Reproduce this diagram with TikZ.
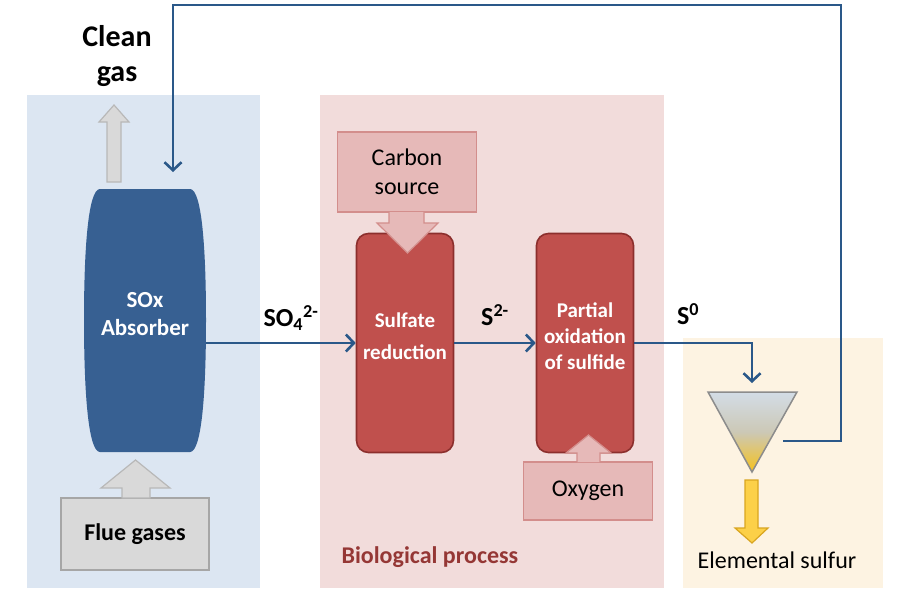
\documentclass[tikz,border=0pt]{standalone}
\usepackage{fontspec}
\setmainfont{Carlito}
\usetikzlibrary{arrows.meta,calc}

\definecolor{bluepanel}{HTML}{DCE6F2}
\definecolor{pinkpanel}{HTML}{F2DCDB}
\definecolor{creampanel}{HTML}{FDF3E2}
\definecolor{absblue}{HTML}{376092}
\definecolor{flowblue}{HTML}{2A5889}
\definecolor{reactorred}{HTML}{C0504D}
\definecolor{reactorline}{HTML}{8C2F2D}
\definecolor{inpink}{HTML}{E6B9B8}
\definecolor{inline}{HTML}{D38E8C}
\definecolor{grayfill}{HTML}{D9D9D9}
\definecolor{grayline}{HTML}{A6A6A6}
\definecolor{darkred}{HTML}{953735}
\definecolor{sulfyellow}{HTML}{FCD048}
\definecolor{sulfline}{HTML}{D9A520}
\definecolor{funneltop}{HTML}{D3DCE6}
\definecolor{funnelmid}{HTML}{CCC8B6}
\definecolor{funnelbot}{HTML}{F6C21C}

\begin{document}
\begin{tikzpicture}[x=1pt, y=-1pt,
  flow/.style={draw=flowblue, line width=2.6pt, -{Straight Barb[length=8pt,width=17pt]}},
  flowlabel/.style={font=\fontsize{26}{30}\selectfont\bfseries},
  graybox/.style={draw=grayline, fill=grayfill, line width=1.2pt, font=\fontsize{24}{29}\selectfont\bfseries},
  grayarrow/.style={draw=grayline!80, fill=grayfill, line width=1.2pt},
  inbox/.style={draw=inline, fill=inpink, line width=1.2pt, align=center, font=\fontsize{24}{29}\selectfont},
  inarrow/.style={draw=inline, fill=inpink, line width=1.2pt},
  reactor/.style={draw=reactorline, fill=reactorred, line width=1.6pt, rounded corners=12pt, minimum width=97pt, minimum height=219pt},
  rtext/.style={text=white, align=center, font=\fontsize{21}{26}\selectfont\bfseries},
  absorber/.style={minimum width=122pt, minimum height=263pt},
  atext/.style={text=white, align=center, font=\fontsize{23}{28}\selectfont\bfseries}]
\useasboundingbox (0,0) rectangle (900,600);

%panels
\fill[bluepanel] (27,95) rectangle (260,588);
\fill[pinkpanel] (320,95) rectangle (664,588);
\fill[creampanel] (683,338) rectangle (883,588);

%absorber
\fill[absblue] (100,189) -- (190,189) .. controls (202,189) and (206,250) .. (206,320)
  .. controls (206,390) and (202,452) .. (190,452) -- (100,452)
  .. controls (88,452) and (84,390) .. (84,320) .. controls (84,250) and (88,189) .. (100,189) -- cycle;
\node[absorber, label={[atext, yshift=6pt]center:{SOx\\Absorber}}] (abs) at (145,320) {};
\node[font=\fontsize{30}{35}\selectfont\bfseries, align=center] (clean) at (117,56) {Clean\\gas};
\node[graybox, minimum width=148pt, minimum height=72pt] (flue) at (135,534) {Flue gases};
\draw[grayarrow] (107,182) -- (107,122) -- (99,122) -- (114,105) -- (129,122) -- (121,122) -- (121,182) -- cycle;
\draw[grayarrow] (122,498) -- (122,488) -- (101,488) -- (135.5,460) -- (170,488) -- (150,488) -- (150,498) -- cycle;

%biological process
\node[inbox, minimum width=139pt, minimum height=80pt] (carbon) at (407,172) {Carbon\\source};
\node[reactor, label={[rtext, yshift=7pt]center:{Sulfate\\[6pt]reduction}}] (sred) at (405,343) {};
\node[reactor, label={[rtext, yshift=7pt]center:{Partial\\oxidation\\of sulfide}}] (pox) at (585,343) {};
\node[inbox, minimum width=129pt, minimum height=58pt] (oxy) at (588,491) {Oxygen};
\draw[inarrow] (389,212) -- (389,223) -- (377,223) -- (407.5,253) -- (438,223) -- (424,223) -- (424,212);
\draw[inarrow] (577,462) -- (577,453) -- (566,453) -- (588.5,435) -- (611,453) -- (600,453) -- (600,462);
\node[anchor=west, text=darkred, font=\fontsize{24}{29}\selectfont\bfseries] (bio) at (338,557) {Biological process};

%separation
\draw[draw=gray!90, line width=1.5pt, top color=funneltop, bottom color=funnelbot, middle color=funnelmid]
  (708,392) -- (797,392) -- (752,472) -- cycle;
\draw[draw=sulfline, fill=sulfyellow, line width=1.2pt] (745,480) -- (745,528) -- (735,528) -- (752,543) -- (768,528) -- (758,528) -- (758,480) -- cycle;
\node[font=\fontsize{24}{29}\selectfont] (sulfur) at (777,560) {Elemental sulfur};

%flows
\coordinate (fin) at (752,383);
\coordinate (fout) at (783,441);
\coordinate (absin) at (173,172);
\draw[flow] (sred.west -| abs.east) -- (sred.west);
\draw[flow] (sred.east) -- (pox.west);
\draw[flow] (pox.east) -| (fin);
\draw[flow] (fout) -| (841,5) -| (absin);
\node[flowlabel] (so4) at (291,318) {SO\textsubscript{4}\textsuperscript{2-}};
\node[flowlabel] (s2) at (495,315) {S\textsuperscript{2-}};
\node[flowlabel] (s0) at (688,314) {S\textsuperscript{0}};
\end{tikzpicture}
\end{document}
